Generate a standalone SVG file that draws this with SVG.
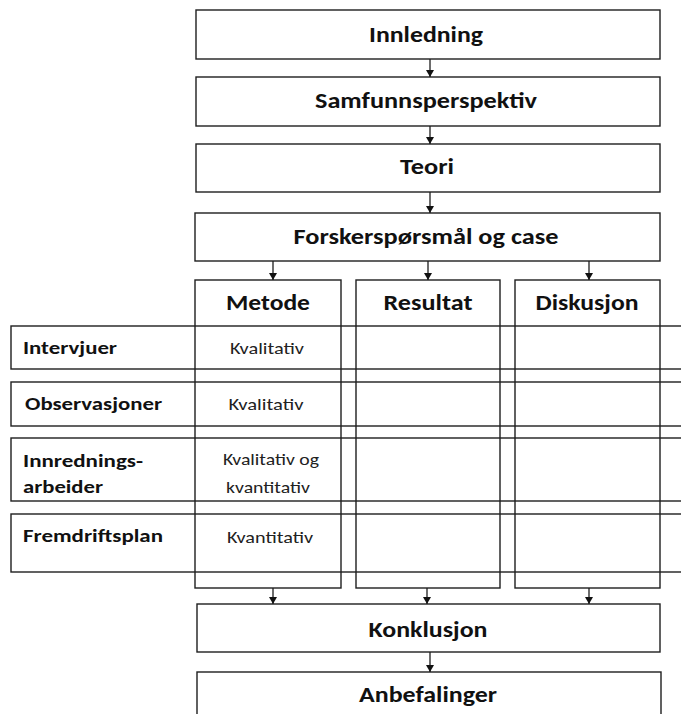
<svg xmlns="http://www.w3.org/2000/svg" width="681" height="714" viewBox="0 0 681 714">
  <style>
    .box { fill: none; stroke: #1e1e1e; stroke-width: 1.4; }
    .bg { fill: #ffffff; }
    .link { stroke: #1e1e1e; stroke-width: 1.3; fill: none; }
    .h { font-family: Carlito, "Open Sans", "Liberation Sans", sans-serif; font-weight: bold; font-size: 23px; fill: #111; text-anchor: middle; }
    .lbl { font-family: Carlito, "Open Sans", "Liberation Sans", sans-serif; font-weight: bold; font-size: 19px; fill: #111; }
    .val { font-family: Carlito, "Open Sans", "Liberation Sans", sans-serif; font-size: 17px; fill: #222; text-anchor: middle; }
  </style>
  <defs>
    <marker id="arrow" viewBox="0 0 7 8" refX="7" refY="4" markerWidth="7" markerHeight="8" markerUnits="userSpaceOnUse" orient="auto">
      <path d="M0,0 L7,4 L0,8 Z" fill="#111"/>
    </marker>
  </defs>
  <rect class="bg" x="0" y="0" width="681" height="714"/>

  <!-- main chain -->
  <g id="innledning">
    <rect class="box" x="196" y="10" width="464" height="49"/>
    <text class="h" x="426" y="42" textLength="114" lengthAdjust="spacingAndGlyphs">Innledning</text>
  </g>
  <g id="samfunnsperspektiv">
    <rect class="box" x="196" y="77" width="464" height="49"/>
    <text class="h" x="426" y="108" textLength="222" lengthAdjust="spacingAndGlyphs">Samfunnsperspektiv</text>
  </g>
  <g id="teori">
    <rect class="box" x="196" y="144" width="464" height="48"/>
    <text class="h" x="427" y="174" textLength="54" lengthAdjust="spacingAndGlyphs">Teori</text>
  </g>
  <g id="forskersporsmal">
    <rect class="box" x="195" y="213" width="465" height="48"/>
    <text class="h" x="426" y="244" textLength="265" lengthAdjust="spacingAndGlyphs">Forskerspørsmål og case</text>
  </g>

  <!-- columns -->
  <g id="metode">
    <rect class="box" x="195" y="280" width="146" height="308"/>
    <text class="h" x="268" y="310" textLength="84" lengthAdjust="spacingAndGlyphs">Metode</text>
  </g>
  <g id="resultat">
    <rect class="box" x="356" y="280" width="144" height="308"/>
    <text class="h" x="428" y="310" textLength="89" lengthAdjust="spacingAndGlyphs">Resultat</text>
  </g>
  <g id="diskusjon">
    <rect class="box" x="515" y="280" width="145" height="308"/>
    <text class="h" x="587" y="310" textLength="103" lengthAdjust="spacingAndGlyphs">Diskusjon</text>
  </g>

  <!-- rows across the columns -->
  <g id="intervjuer">
    <rect class="box" x="11" y="326" width="690" height="43"/>
    <text class="lbl" x="23" y="354" textLength="94" lengthAdjust="spacingAndGlyphs">Intervjuer</text>
    <text class="val" x="267" y="354" textLength="74" lengthAdjust="spacingAndGlyphs">Kvalitativ</text>
  </g>
  <g id="observasjoner">
    <rect class="box" x="11" y="382" width="690" height="44"/>
    <text class="lbl" x="25" y="410" textLength="137" lengthAdjust="spacingAndGlyphs">Observasjoner</text>
    <text class="val" x="266" y="410" textLength="75" lengthAdjust="spacingAndGlyphs">Kvalitativ</text>
  </g>
  <g id="innredningsarbeider">
    <rect class="box" x="11" y="438" width="690" height="63"/>
    <text class="lbl" x="23" y="467" textLength="120" lengthAdjust="spacingAndGlyphs">Innrednings-</text>
    <text class="lbl" x="23" y="493" textLength="80" lengthAdjust="spacingAndGlyphs">arbeider</text>
    <text class="val" x="271" y="465" textLength="96" lengthAdjust="spacingAndGlyphs">Kvalitativ og</text>
    <text class="val" x="268" y="493" textLength="84" lengthAdjust="spacingAndGlyphs">kvantitativ</text>
  </g>
  <g id="fremdriftsplan">
    <rect class="box" x="11" y="514" width="690" height="58"/>
    <text class="lbl" x="23" y="542" textLength="140" lengthAdjust="spacingAndGlyphs">Fremdriftsplan</text>
    <text class="val" x="270" y="543" textLength="86" lengthAdjust="spacingAndGlyphs">Kvantitativ</text>
  </g>

  <!-- closing chain -->
  <g id="konklusjon">
    <rect class="box" x="197" y="604" width="463" height="48"/>
    <text class="h" x="428" y="637" textLength="119" lengthAdjust="spacingAndGlyphs">Konklusjon</text>
  </g>
  <g id="anbefalinger">
    <rect class="box" x="197" y="672" width="464" height="60"/>
    <text class="h" x="428" y="702" textLength="138" lengthAdjust="spacingAndGlyphs">Anbefalinger</text>
  </g>

  <!-- connectors -->
  <g id="connectors" class="link">
    <line x1="430" y1="59" x2="430" y2="77" marker-end="url(#arrow)"/>
    <line x1="430" y1="126" x2="430" y2="144" marker-end="url(#arrow)"/>
    <line x1="430" y1="192" x2="430" y2="213" marker-end="url(#arrow)"/>
    <line x1="273" y1="261" x2="273" y2="280" marker-end="url(#arrow)"/>
    <line x1="428" y1="261" x2="428" y2="280" marker-end="url(#arrow)"/>
    <line x1="589" y1="261" x2="589" y2="280" marker-end="url(#arrow)"/>
    <line x1="273" y1="588" x2="273" y2="604" marker-end="url(#arrow)"/>
    <line x1="427" y1="588" x2="427" y2="604" marker-end="url(#arrow)"/>
    <line x1="589" y1="588" x2="589" y2="604" marker-end="url(#arrow)"/>
    <line x1="430" y1="652" x2="430" y2="672" marker-end="url(#arrow)"/>
  </g>
</svg>
